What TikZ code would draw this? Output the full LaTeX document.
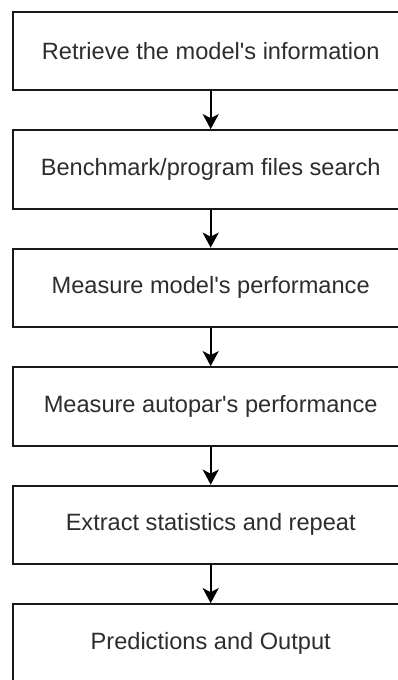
\documentclass[tikz,border=0pt]{standalone}
\usepackage{fontspec}
\newfontfamily\arialfont{Liberation Sans}
\usetikzlibrary{arrows.meta}
\definecolor{txt}{RGB}{45,45,45}
\begin{document}
\begin{tikzpicture}[x=1pt,y=1pt,
  box/.style={draw=black!90, line width=2pt, fill=white, minimum width=396pt, minimum height=78.5pt, inner sep=0pt,
    font=\arialfont\fontsize{23.6}{28}\selectfont, text=txt},
  flow/.style={draw=black, line width=2pt, -{Stealth[length=15pt,width=16pt,inset=4pt]}}]
\useasboundingbox (0,0) rectangle (398,680);
\clip (0,0) rectangle (398,680);
\node[box] (b1) at (210.7,680-50.9) {Retrieve the model's information};
\node[box] (b2) at (210.7,680-169.4) {Benchmark/program files search};
\node[box] (b3) at (210.7,680-287.9) {Measure model's performance};
\node[box] (b4) at (210.7,680-406.4) {Measure autopar's performance};
\node[box] (b5) at (210.7,680-524.9) {Extract statistics and repeat};
\node[box] (b6) at (210.7,680-643.4) {Predictions and Output};
\draw[flow] (b1.south) -- (b2.north);
\draw[flow] (b2.south) -- (b3.north);
\draw[flow] (b3.south) -- (b4.north);
\draw[flow] (b4.south) -- (b5.north);
\draw[flow] (b5.south) -- (b6.north);
\end{tikzpicture}
\end{document}
